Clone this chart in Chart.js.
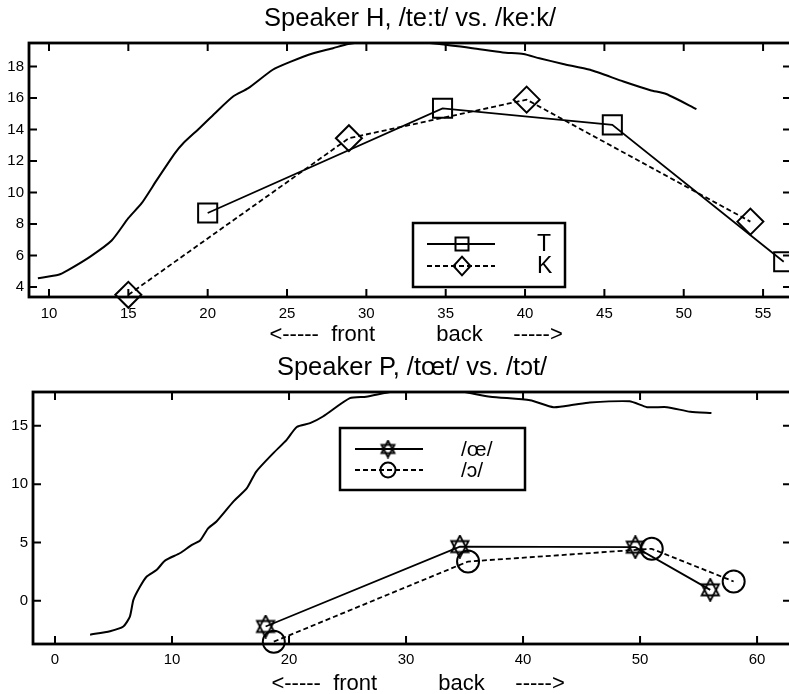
<!DOCTYPE html>
<html>
<head>
<meta charset="utf-8">
<script src="https://cdn.jsdelivr.net/npm/chart.js@4"></script>
<style>
  html, body { margin: 0; padding: 0; background: #fff; overflow: hidden; }
  #wrap { position: relative; width: 789px; height: 694px; overflow: hidden; }
  canvas { position: absolute; left: 0; }
  #chartH { top: 0; }
  #chartP { top: 345px; }
</style>
</head>
<body>
<div id="wrap">
  <canvas id="chartH" width="792" height="345"></canvas>
  <canvas id="chartP" width="792" height="349"></canvas>
</div>
<script>
// ---- Speaker H ----
const hCurveX = [9.3, 10.6, 11.2, 12.6, 13.95, 15.0, 15.84, 16.8, 17.94, 18.46, 19.5, 20.46, 21.6, 22.56, 24.1, 25.2, 26.66, 27.9, 28.86, 30.5, 32.5, 34.6, 36.7, 38.6, 39.9, 40.9, 42.4, 44.1, 46.2, 47.9, 48.9, 50.8];
const hCurveY = [4.55, 4.77, 5.07, 5.93, 6.95, 8.37, 9.32, 10.8, 12.5, 13.13, 14.1, 15.04, 16.1, 16.63, 17.8, 18.3, 18.85, 19.17, 19.44, 19.6, 19.6, 19.44, 19.17, 18.9, 18.8, 18.53, 18.17, 17.8, 17.05, 16.5, 16.26, 15.3];
const tX = [20, 34.8, 45.5, 56.3];
const tY = [8.7, 15.35, 14.3, 5.6];
const kX = [15, 28.9, 40.1, 54.2];
const kY = [3.5, 13.45, 15.9, 8.15];
const hXTicks = [10, 15, 20, 25, 30, 35, 40, 45, 50, 55];
const hYTicks = [4, 6, 8, 10, 12, 14, 16, 18];
const hLabels = ['T', 'K'];

// ---- Speaker P ----
const pCurveX = [3.0, 4.7, 5.84, 6.4, 6.7, 7.26, 7.84, 8.7, 9.4, 10.7, 11.7, 12.4, 13.1, 13.8, 15.24, 16.4, 17.2, 18.66, 19.8, 20.66, 21.8, 22.9, 25.2, 26.6, 28.9, 31, 34.3, 37.2, 40.6, 42.6, 44.3, 45.7, 49.1, 50.6, 52.3, 54.3, 56.1];
const pCurveY = [-2.9, -2.6, -2.2, -1.35, 0.08, 1.2, 2.08, 2.66, 3.45, 4.1, 4.8, 5.17, 6.23, 6.8, 8.5, 9.66, 11.08, 12.66, 13.8, 14.9, 15.23, 15.8, 17.37, 17.5, 17.94, 18.0, 18.0, 17.5, 17.2, 16.6, 16.8, 17.0, 17.1, 16.6, 16.6, 16.2, 16.1];
const oeX = [18, 34.6, 49.6, 56.0];
const oeY = [-2.2, 4.65, 4.6, 0.94];
const openOX = [18.7, 35.3, 51.0, 58.0];
const openOY = [-3.5, 3.37, 4.46, 1.66];
const pXTicks = [0, 10, 20, 30, 40, 50, 60];
const pYTicks = [0, 5, 10, 15];
const pLabels = ['/œ/', '/ɔ/'];

Chart.defaults.font.family = '"Liberation Sans", Arial, sans-serif';
Chart.defaults.color = '#000';

const pts = (xs, ys) => xs.map((x, i) => ({ x: x, y: ys[i] }));

function makeStar(r) {
  const c = document.createElement('canvas');
  c.width = c.height = Math.ceil(2 * r + 4);
  const g = c.getContext('2d');
  const cx = c.width / 2;
  g.strokeStyle = '#000';
  g.lineWidth = 1.8;
  for (const rot of [-90, 90]) {
    g.beginPath();
    for (let k = 0; k < 3; k++) {
      const a = (rot + k * 120) * Math.PI / 180;
      const px = cx + r * Math.cos(a), py = cx + r * 1.1 * Math.sin(a);
      if (k) g.lineTo(px, py); else g.moveTo(px, py);
    }
    g.closePath();
    g.stroke();
  }
  return c;
}
const starBig = makeStar(10);
const starSmall = makeStar(7.5);

function drawMarker(ctx, style, r, x, y) {
  ctx.save();
  ctx.strokeStyle = '#000';
  ctx.lineWidth = 2;
  ctx.setLineDash([]);
  if (typeof style === 'object') {
    ctx.drawImage(style, x - style.width / 2, y - style.height / 2);
  } else {
    ctx.beginPath();
    if (style === 'rect') ctx.rect(x - r, y - r, 2 * r, 2 * r);
    if (style === 'rectRot') {
      ctx.moveTo(x, y - r * 1.1); ctx.lineTo(x + r, y); ctx.lineTo(x, y + r * 1.1); ctx.lineTo(x - r, y); ctx.closePath();
    }
    if (style === 'circle') ctx.arc(x, y, r, 0, Math.PI * 2);
    ctx.stroke();
  }
  ctx.restore();
}

// frame, inward ticks on all sides, and boxed legend
const framePlugin = {
  id: 'frame',
  afterDatasetsDraw(chart, args, opts) {
    const { ctx, chartArea: a } = chart;
    const xs = chart.scales.x, ys = chart.scales.y;
    ctx.save();
    ctx.strokeStyle = '#000';
    ctx.lineWidth = 2;
    ctx.beginPath();
    xs.ticks.forEach(t => {
      const px = xs.getPixelForValue(t.value);
      ctx.moveTo(px, a.bottom); ctx.lineTo(px, a.bottom - 8);
      ctx.moveTo(px, a.top); ctx.lineTo(px, a.top + 8);
    });
    ys.ticks.forEach(t => {
      const py = ys.getPixelForValue(t.value);
      ctx.moveTo(a.left, py); ctx.lineTo(a.left + 8, py);
      ctx.moveTo(a.right, py); ctx.lineTo(a.right - 8, py);
    });
    ctx.stroke();
    ctx.lineWidth = 2.8;
    ctx.strokeRect(a.left, a.top, a.right - a.left, a.bottom - a.top);

    // legend box
    const L = opts.box;
    ctx.fillStyle = '#fff';
    ctx.fillRect(L.x, L.y, L.w, L.h);
    ctx.lineWidth = 2.5;
    ctx.strokeRect(L.x, L.y, L.w, L.h);
    opts.items.forEach((it, i) => {
      const y = L.y + opts.rowY[i];
      ctx.lineWidth = 2;
      ctx.setLineDash(it.dash);
      ctx.beginPath();
      ctx.moveTo(L.x + opts.lineX0, y);
      ctx.lineTo(L.x + opts.lineX1, y);
      ctx.stroke();
      ctx.setLineDash([]);
      drawMarker(ctx, it.style, it.r, L.x + opts.markX, y);
      ctx.fillStyle = '#000';
      ctx.font = opts.font;
      ctx.textBaseline = 'middle';
      ctx.textAlign = 'left';
      ctx.fillText(it.label, L.x + opts.textX, y + 1);
    });
    ctx.restore();
  }
};

function lineSet(xs, ys, dash, style, r) {
  return {
    data: pts(xs, ys),
    borderColor: '#000',
    borderWidth: 1.8,
    borderDash: dash,
    pointStyle: style,
    pointRadius: r,
    pointBorderWidth: 2,
    pointBorderColor: '#000',
    pointBackgroundColor: 'rgba(0,0,0,0)',
    tension: 0,
    clip: false
  };
}

function curveSet(xs, ys) {
  return {
    data: pts(xs, ys),
    borderColor: '#000',
    borderWidth: 2,
    pointRadius: 0,
    tension: 0.2
  };
}

function axes(xMin, xMax, xTicks, yMin, yMax, yTicks, yWidth, xHeight, xPad) {
  return {
    x: {
      type: 'linear', min: xMin, max: xMax,
      grid: { display: false, drawTicks: false }, border: { display: false },
      afterBuildTicks: s => { s.ticks = xTicks.map(v => ({ value: v })); },
      afterFit: s => { s.height = xHeight; s.paddingLeft = 0; s.paddingRight = 0; },
      ticks: { font: { size: 15 }, padding: xPad, maxRotation: 0, autoSkip: false },
      title: {
        display: true,
        text: '  <-----  front          back     ----->',
        font: { size: 22, lineHeight: 1 },
        padding: { top: 0, bottom: -1 }
      }
    },
    y: {
      type: 'linear', min: yMin, max: yMax,
      grid: { display: false, drawTicks: false }, border: { display: false },
      afterBuildTicks: s => { s.ticks = yTicks.map(v => ({ value: v })); },
      afterFit: s => { s.width = yWidth; s.paddingTop = 0; s.paddingBottom = 0; },
      ticks: { font: { size: 15 }, padding: 5 }
    }
  };
}

new Chart(document.getElementById('chartH'), {
  type: 'line',
  data: {
    datasets: [
      curveSet(hCurveX, hCurveY),
      lineSet(tX, tY, [], 'rect', 13.5),
      lineSet(kX, kY, [5, 3], 'rectRot', 13)
    ]
  },
  plugins: [framePlugin],
  options: {
    responsive: false,
    animation: false,
    layout: { autoPadding: false, padding: { left: 0, right: 1, top: 0, bottom: 0 } },
    scales: axes(8.74, 56.76, hXTicks, 3.36, 19.5, hYTicks, 29, 48, 8),
    plugins: {
      legend: { display: false },
      tooltip: { enabled: false },
      title: {
        display: true, fullSize: false,
        text: 'Speaker H, /te:t/ vs. /ke:k/',
        font: { size: 25.5, weight: 'normal', lineHeight: 1.2 },
        padding: { top: 4, bottom: 8.4 }
      },
      frame: {
        box: { x: 413, y: 223, w: 152, h: 64 },
        rowY: [21, 43],
        lineX0: 14, lineX1: 82, markX: 49, textX: 124,
        font: '23px "Liberation Sans", Arial, sans-serif',
        items: [
          { label: hLabels[0], dash: [], style: 'rect', r: 6.5 },
          { label: hLabels[1], dash: [5, 3], style: 'rectRot', r: 8.5 }
        ]
      }
    }
  }
});

new Chart(document.getElementById('chartP'), {
  type: 'line',
  data: {
    datasets: [
      curveSet(pCurveX, pCurveY),
      lineSet(oeX, oeY, [], starBig, 10),
      lineSet(openOX, openOY, [5, 3], 'circle', 11)
    ]
  },
  plugins: [framePlugin],
  options: {
    responsive: false,
    animation: false,
    layout: { autoPadding: false, padding: { left: 0, right: 1, top: 0, bottom: 0 } },
    scales: axes(-1.88, 62.9, pXTicks, -3.7, 17.9, pYTicks, 33, 50, 7),
    plugins: {
      legend: { display: false },
      tooltip: { enabled: false },
      title: {
        display: true, fullSize: false,
        text: 'Speaker P, /tœt/ vs. /tɔt/',
        font: { size: 25.5, weight: 'normal', lineHeight: 1.2 },
        padding: { top: 7.7, bottom: 8.7 }
      },
      frame: {
        box: { x: 340, y: 83, w: 185, h: 62 },
        rowY: [21, 42],
        lineX0: 15, lineX1: 83, markX: 48, textX: 121,
        font: '21px "Liberation Sans", Arial, sans-serif',
        items: [
          { label: pLabels[0], dash: [], style: starSmall, r: 7.5 },
          { label: pLabels[1], dash: [5, 3], style: 'circle', r: 7.5 }
        ]
      }
    }
  }
});
</script>
</body>
</html>
